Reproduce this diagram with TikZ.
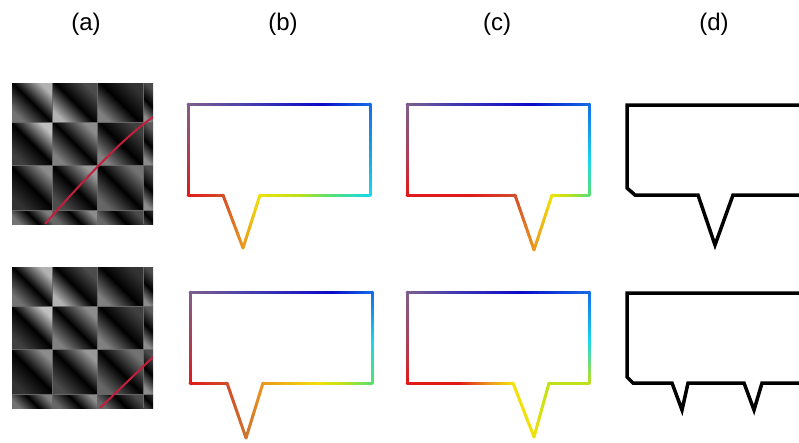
\documentclass[tikz,border=0pt]{standalone}
\usepackage{fontspec}
\setmainfont{Liberation Sans}
\usetikzlibrary{calc, math}

\definecolor{cpg}{RGB}{125,95,140}
\definecolor{cmr}{RGB}{175,60,80}
\definecolor{cred}{RGB}{225,25,25}
\definecolor{cro}{RGB}{210,75,40}
\definecolor{cor}{RGB}{205,115,50}
\definecolor{corg}{RGB}{235,150,30}
\definecolor{cyel}{RGB}{240,225,10}
\definecolor{cyg}{RGB}{190,225,25}
\definecolor{cgrn}{RGB}{90,225,110}
\definecolor{ccy}{RGB}{25,215,235}
\definecolor{cbl}{RGB}{20,110,230}
\definecolor{cdb}{RGB}{10,10,200}
\definecolor{cpu}{RGB}{70,60,175}
\definecolor{cpath}{RGB}{195,30,60}

\tikzset{
  contour/.style={line width=3pt, line cap=round, line join=round},
  outline/.style={line width=3.5pt, line join=miter, black},
  panel/.style={font=\fontsize{24}{28}\selectfont}
}

% one edge, colour running from #3 to #4
\newcommand\gradedge[4]{%
  \foreach \k in {1,...,12}{
    \pgfmathtruncatemacro\mixp{100-(\k-0.5)*100/12}
    \draw[contour, #3!\mixp!#4] ($(#1)!{(\k-1)/12}!(#2)$) -- ($(#1)!{\k/12}!(#2)$);
  }}

% closed contour: start x, start y, start colour, list x/y/colour
\newcommand\colcontour[4]{%
  \foreach \px/\py/\pcol [remember=\px as \lx (initially #1),
      remember=\py as \ly (initially #2),
      remember=\pcol as \lcol (initially #3)] in {#4}{
    \gradedge{\lx,\ly}{\px,\py}{\lcol}{\pcol}
  }}

% distance matrix, top left corner at #1,#2
\newcommand\simmat[2]{%
  \begin{scope}[shift={(#1,#2)}]
    \foreach \xa/\xb/\ya/\yb/\ll/\ur in {
      0/40/0/39/70/45, 40/85/0/39/30/70, 85/131/0/39/20/50, 131/141/0/39/30/55,
      0/40/39/82/75/25, 40/85/39/82/55/50, 85/131/39/82/25/50, 131/141/39/82/35/55,
      0/40/82/127/55/20, 40/85/82/127/60/30, 85/131/82/127/45/40, 131/141/82/127/30/55,
      0/40/127/141/50/45, 40/85/127/141/55/40, 85/131/127/141/30/40, 131/141/127/141/15/25}{
      \shade[left color=white!\ll!black, right color=white!\ur!black, middle color=black,
        shading angle=-45] (\xa,\ya) rectangle (\xb,\yb);
    }
    \foreach \b in {40,85,131}{
      \draw[white!40!black, line width=0.8pt] (\b,0) -- (\b,141);
    }
    \foreach \b in {39,82,127}{
      \draw[white!40!black, line width=0.8pt] (0,\b) -- (141,\b);
    }
  \end{scope}}

\begin{document}
\begin{tikzpicture}[x=1pt, y=-1pt]
\useasboundingbox (0,0) rectangle (799,442);

\node[panel] (la) at (86,24) {(a)};
\node[panel] (lb) at (283,24) {(b)};
\node[panel] (lc) at (497,24) {(c)};
\node[panel] (ld) at (714,24) {(d)};

\simmat{12}{83}
\begin{scope}[shift={(12,83)}]
\clip (0,0) rectangle (141,141);
\draw[cpath, line width=2pt] (33,141) .. controls (63,107) and (108,57) .. (141,34);
\end{scope}

\simmat{12}{267}
\begin{scope}[shift={(12,267)}]
\clip (0,0) rectangle (141,141);
\draw[cpath, line width=2pt] (88,141) -- (141,90);
\end{scope}

\colcontour{188}{104}{cpg}{188/160/cmr, 188/195/cred, 223/195/cro, 243/248/corg,
  260/195/cyel, 300/195/cyg, 330/195/cgrn, 370/195/ccy, 370/104/cbl,
  320/104/cdb, 250/104/cpu, 188/104/cpg}
\colcontour{407}{104}{cpg}{407/160/cmr, 407/195/cred, 470/195/cred, 515/195/cro,
  534/250/corg, 552/195/cyel, 570/195/cyg, 589/195/cgrn, 589/160/ccy, 589/104/cbl,
  530/104/cdb, 450/104/cpu, 407/104/cpg}
\colcontour{190}{292}{cpg}{190/350/cmr, 190/383/cred, 227/383/cro, 246/438/cor,
  263/383/corg, 320/383/cyel, 345/383/cyg, 372/383/cgrn, 372/340/ccy, 372/292/cbl,
  330/292/cdb, 250/292/cpu, 190/292/cpg}
\colcontour{407}{292}{cpg}{407/350/cmr, 407/383/cred, 460/383/cred, 490/383/corg,
  513/383/cyel, 534/437/cyel, 549/383/cyg, 589/383/cyg, 589/340/ccy, 589/292/cbl,
  520/292/cdb, 450/292/cpu, 407/292/cpg}

\draw[outline] (800,105) -- (627,105) -- (627,188) -- (635,195) -- (698,195)
  -- (715,245) -- (733,195) -- (800,195);
\draw[outline] (800,293) -- (627,293) -- (627,377) -- (633,383) -- (672,383)
  -- (682,410) -- (688,383) -- (744,383) -- (754,410) -- (762,383) -- (800,383);
\end{tikzpicture}
\end{document}
